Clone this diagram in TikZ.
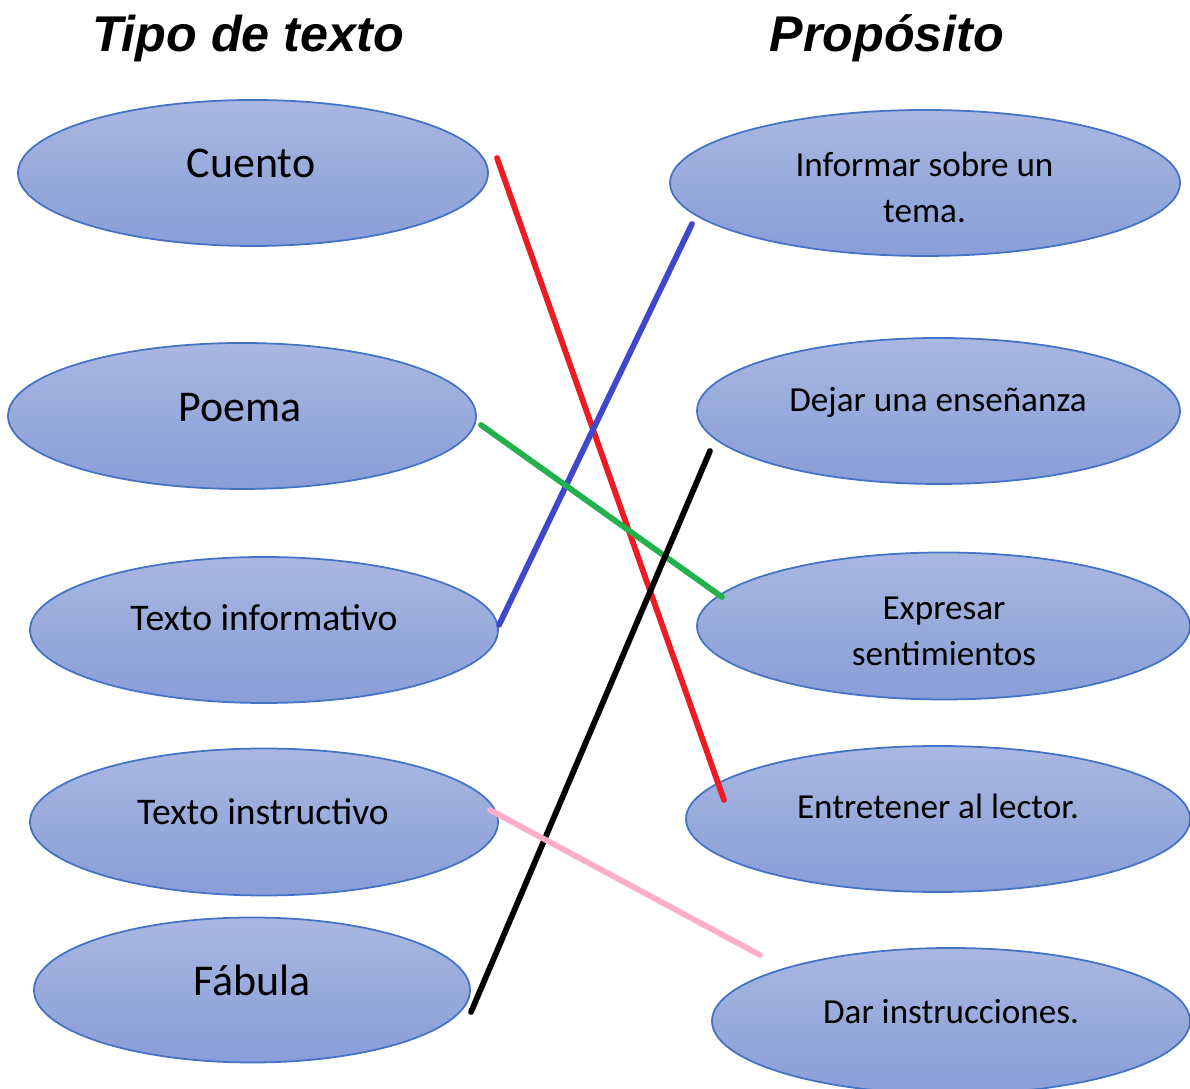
\documentclass[tikz,border=0pt]{standalone}
\usepackage{fontspec}
\setmainfont{Carlito}
\newfontfamily\titlefont{Liberation Sans}
\usetikzlibrary{shapes,positioning}

\definecolor{ovaltop}{HTML}{A9B7E1}
\definecolor{ovalbot}{HTML}{889ED7}
\definecolor{ovalline}{HTML}{4472C4}
\definecolor{rojo}{HTML}{ED1C24}
\definecolor{azul}{HTML}{3F48CC}
\definecolor{verde}{HTML}{22B14C}
\definecolor{rosa}{HTML}{FFAEC9}

\tikzset{
 oval/.style={ellipse,draw=ovalline,line width=0.5pt,top color=ovaltop,bottom color=ovalbot,inner sep=0pt},
 big/.style={anchor=base,font=\fontsize{12.5}{15}\selectfont},
 mid/.style={anchor=base,font=\fontsize{10.7}{13}\selectfont},
 small/.style={align=center,font=\fontsize{10}{13.1}\selectfont},
 title/.style={anchor=base,font=\titlefont\bfseries\itshape\fontsize{14.3}{17}\selectfont},
 link/.style={line width=1.65pt,line cap=round}
}

\begin{document}
\begin{tikzpicture}[inner sep=0.4mm]

\useasboundingbox (0,0) rectangle (11.9,10.89);

 \node[title] (tipo) at (2.48,10.37) {Tipo de texto};
 \node[title] (prop) at (8.87,10.37) {Propósito};

 \node[oval,minimum width=4.70cm,minimum height=1.46cm] (cuento) at (2.53,9.16) {};
 \node[oval,minimum width=4.68cm,minimum height=1.46cm] (poema) at (2.42,6.73) {};
 \node[oval,minimum width=4.68cm,minimum height=1.46cm] (informativo) at (2.64,4.59) {};
 \node[oval,minimum width=4.68cm,minimum height=1.47cm] (instructivo) at (2.64,2.67) {};
 \node[oval,minimum width=4.36cm,minimum height=1.45cm] (fabula) at (2.52,0.99) {};

 \node[oval,minimum width=5.10cm,minimum height=1.46cm] (informar) at (9.25,9.06) {};
 \node[oval,minimum width=4.83cm,minimum height=1.46cm] (dejar) at (9.385,6.78) {};
 \node[oval,minimum width=4.93cm,minimum height=1.47cm] (expresar) at (9.435,4.63) {};
 \node[oval,minimum width=5.04cm,minimum height=1.46cm] (entretener) at (9.38,2.70) {};
 \node[oval,minimum width=4.78cm,minimum height=1.46cm] (dar) at (9.51,0.68) {};

 \node[big] (cuentoT) at (2.51,9.11) {Cuento};
 \node[big] (poemaT) at (2.40,6.67) {Poema};
 \node[mid] (informativoT) at (2.64,4.58) {Texto informativo};
 \node[mid] (instructivoT) at (2.63,2.64) {Texto instructivo};
 \node[big] (fabulaT) at (2.52,0.93) {Fábula};

 \node[small] (informarT) at (9.245,9.02) {Informar sobre un\\tema.};
 \node[small,anchor=base] (dejarT) at (9.38,6.77) {Dejar una enseñanza};
 \node[small] (expresarT) at (9.44,4.575) {Expresar\\sentimientos};
 \node[small,anchor=base] (entretenerT) at (9.38,2.70) {Entretener al lector.};
 \node[small,anchor=base] (darT) at (9.51,0.65) {Dar instrucciones.};

 \coordinate (R1) at (4.97,9.31);
 \coordinate (R2) at (7.24,2.89);
 \coordinate (B1) at (6.92,8.65);
 \coordinate (B2) at (4.99,4.64);
 \coordinate (G1) at (4.81,6.64);
 \coordinate (G2) at (7.22,4.92);
 \coordinate (K1) at (7.10,6.38);
 \coordinate (K2) at (4.71,0.77);
 \coordinate (P1) at (4.90,2.79);
 \coordinate (P2) at (7.60,1.34);

\draw[link,rojo] (R1) -- (R2);
\draw[link,azul] (B1) -- (B2);
\draw[link,verde] (G1) -- (G2);
\draw[link,black] (K1) -- (K2);
\draw[link,rosa] (P1) -- (P2);

\end{tikzpicture}
\end{document}
